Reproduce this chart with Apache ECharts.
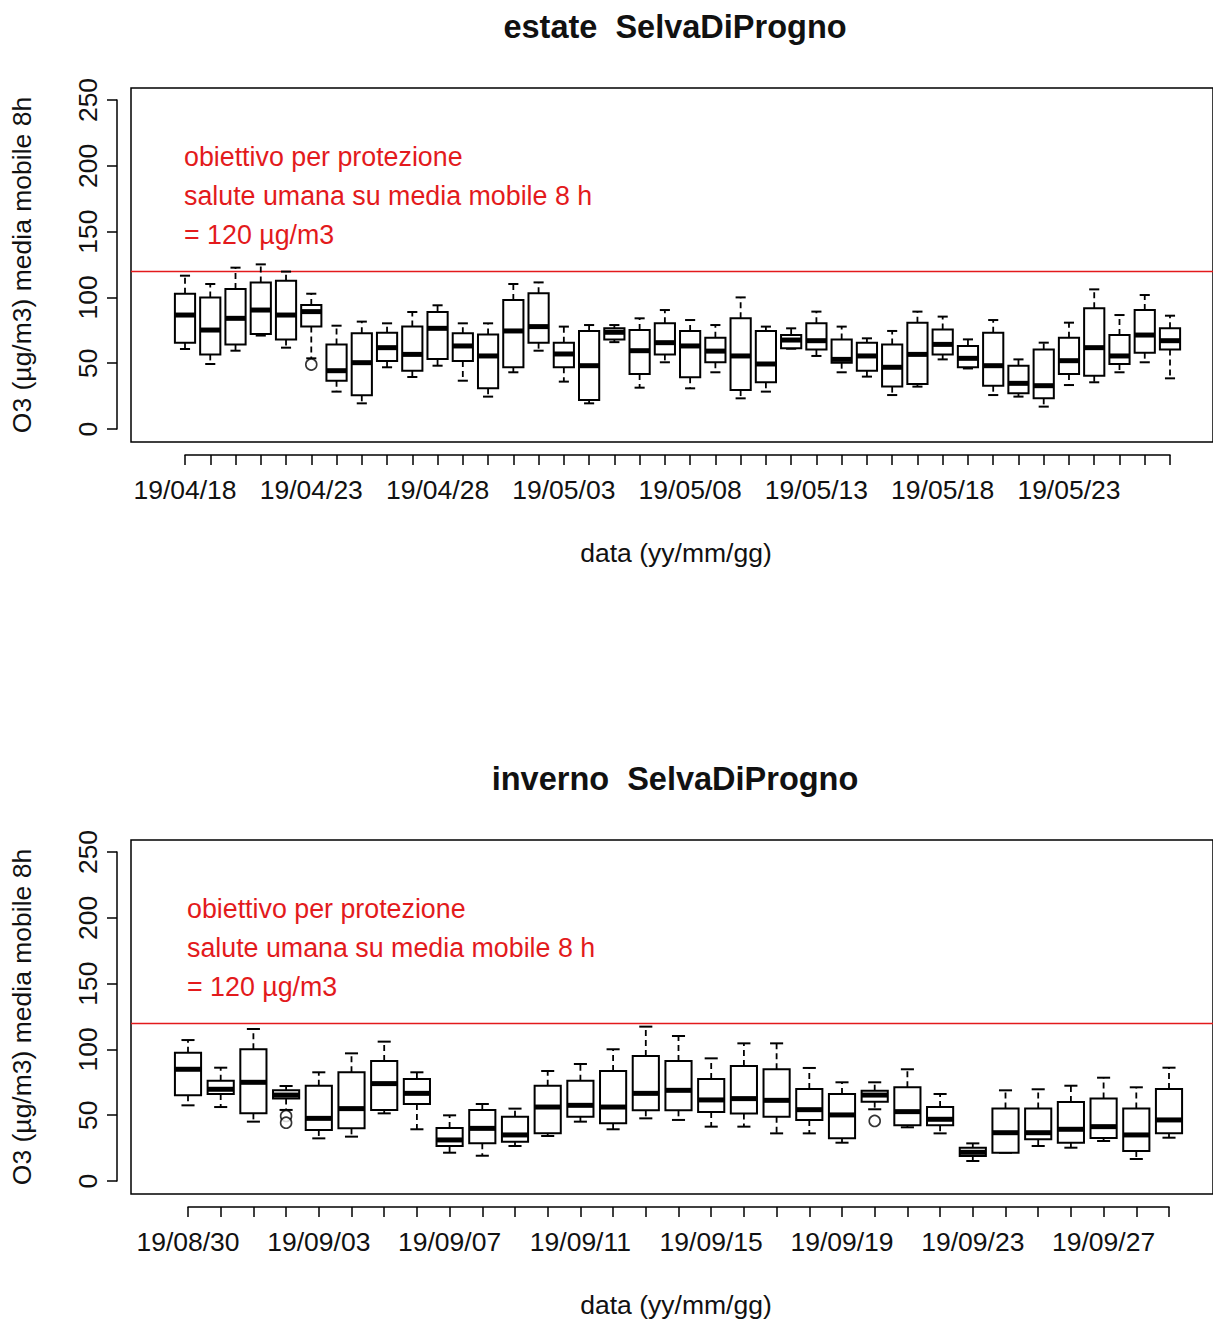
<!DOCTYPE html>
<html><head><meta charset="utf-8">
<script src="https://cdn.jsdelivr.net/npm/echarts@6/dist/echarts.min.js"></script>
<style>html,body{margin:0;padding:0;background:#fff}#c{width:1213px;height:1321px}</style>
</head><body><div id="c"></div>
<script>
const FONT = '"Liberation Sans", Arial, sans-serif';

// ---------- estate ----------
const estateDates = ['19/04/18','19/04/19','19/04/20','19/04/21','19/04/22','19/04/23','19/04/24','19/04/25','19/04/26','19/04/27',
  '19/04/28','19/04/29','19/04/30','19/05/01','19/05/02','19/05/03','19/05/04','19/05/05','19/05/06','19/05/07',
  '19/05/08','19/05/09','19/05/10','19/05/11','19/05/12','19/05/13','19/05/14','19/05/15','19/05/16','19/05/17',
  '19/05/18','19/05/19','19/05/20','19/05/21','19/05/22','19/05/23','19/05/24','19/05/25','19/05/26','19/05/27'];
const estateTickLabels = ['19/04/18','19/04/23','19/04/28','19/05/03','19/05/08','19/05/13','19/05/18','19/05/23'];
const estateMin = [60.8,49.4,59.5,71.0,61.8,53.7,28.4,19.5,46.9,39.5,48.1,36.7,24.6,43.1,59.5,36.0,19.5,66.0,31.4,50.7,
  30.9,43.1,23.3,28.4,61.0,55.5,43.1,39.8,25.8,32.2,52.9,46.0,25.8,24.6,17.0,33.4,35.5,43.1,50.7,38.5];
const estateQ1 = [65.6,56.7,64.3,72.2,68.1,77.8,36.7,25.6,51.7,44.3,53.2,51.7,30.9,46.9,65.6,46.9,22.0,68.1,41.8,56.7,
  39.3,50.7,29.6,35.5,61.3,60.5,50.4,44.3,32.2,34.2,56.7,46.9,32.9,27.1,23.3,41.8,40.5,49.4,58.0,60.5];
const estateMedian = [86.6,75.2,84.1,90.4,86.6,89.2,44.3,50.4,61.8,56.7,76.5,63.1,55.5,74.5,77.8,57.0,48.1,73.5,59.5,65.6,
  63.1,59.2,55.5,49.4,67.6,67.1,52.9,55.5,46.9,56.7,64.3,53.7,48.1,34.7,32.9,51.9,61.8,55.5,71.4,67.1];
const estateQ3 = [102.8,100.0,106.4,111.4,112.7,94.2,64.3,72.7,73.2,77.8,88.9,72.7,71.9,98.0,103.1,65.6,74.5,76.5,75.2,80.3,
  74.5,69.4,84.1,74.5,71.4,80.3,68.1,65.6,64.3,80.8,75.7,63.1,73.2,48.1,60.5,69.4,91.7,71.4,90.4,76.5];
const estateMax = [116.5,110.2,122.6,125.1,119.6,102.8,78.5,81.6,80.3,88.9,94.0,80.3,80.3,110.2,111.4,77.8,79.0,79.0,84.1,90.4,
  82.8,79.0,100.0,77.8,76.5,89.2,77.8,68.9,74.5,89.2,85.4,68.1,82.8,52.9,65.6,80.8,106.1,86.6,101.8,86.1];
const estateOutlierIdx = [5];
const estateOutlierVal = [49.0];

// ---------- inverno ----------
const invernoDates = ['19/08/30','19/08/31','19/09/01','19/09/02','19/09/03','19/09/04','19/09/05','19/09/06','19/09/07','19/09/08',
  '19/09/09','19/09/10','19/09/11','19/09/12','19/09/13','19/09/14','19/09/15','19/09/16','19/09/17','19/09/18',
  '19/09/19','19/09/20','19/09/21','19/09/22','19/09/23','19/09/24','19/09/25','19/09/26','19/09/27','19/09/28','19/09/29'];
const invernoTickLabels = ['19/08/30','19/09/03','19/09/07','19/09/11','19/09/15','19/09/19','19/09/23','19/09/27'];
const invernoMin = [57.5,56.2,45.1,54.0,32.4,33.7,51.4,39.3,21.5,19.2,26.6,34.2,45.1,39.3,47.6,46.4,41.3,41.3,36.2,36.2,
  29.1,54.5,40.8,36.2,15.2,21.5,26.6,25.3,30.4,16.7,32.9];
const invernoQ1 = [65.1,66.1,51.4,62.6,38.8,40.0,54.0,58.5,26.6,28.6,29.9,36.2,48.9,43.8,53.7,53.7,52.4,51.2,48.9,46.4,
  32.4,60.3,42.3,42.3,19.0,21.5,31.7,29.1,32.7,22.8,36.2];
const invernoMedian = [84.9,69.7,75.0,65.3,47.6,55.0,74.0,66.6,31.2,40.0,35.0,56.2,57.5,56.2,66.6,68.9,61.6,62.6,61.3,54.2,
  50.2,65.3,52.7,46.9,21.8,36.7,36.7,39.3,41.3,35.0,46.4];
const invernoQ3 = [97.5,76.2,100.1,68.9,72.4,82.6,91.2,77.5,40.3,54.0,48.9,72.4,76.2,83.6,95.0,91.2,77.5,87.4,84.9,69.9,
  66.1,68.6,71.2,56.2,25.3,55.0,55.0,60.0,62.6,55.0,69.9];
const invernoMax = [107.1,86.1,115.5,72.2,82.6,97.0,105.9,82.6,49.9,58.5,55.0,83.6,88.9,100.1,117.3,110.2,93.2,104.6,104.6,85.9,
  75.0,75.0,84.9,66.1,28.6,68.9,69.7,72.4,78.5,71.2,86.1];
const invernoOutlierIdx = [3,3,21];
const invernoOutlierVal = [49.4,44.3,45.6];

const yTicks = { min: 0, max: 250, interval: 50 };
const limitValue = 120;

const chart = echarts.init(document.getElementById('c'), null, { renderer: 'svg' });

function boxRender(params, api) {
  const i = api.value(0);
  const lo = api.coord([i, api.value(1)]);
  const q1 = api.coord([i, api.value(2)]);
  const md = api.coord([i, api.value(3)]);
  const q3 = api.coord([i, api.value(4)]);
  const hi = api.coord([i, api.value(5)]);
  const w = api.size([1, 0])[0] * 0.8;
  const x = lo[0];
  const stroke = '#000';
  return {
    type: 'group',
    children: [
      { type: 'line', shape: { x1: x, y1: q3[1], x2: x, y2: hi[1] }, style: { stroke, lineWidth: 1.8, lineDash: [6, 4] } },
      { type: 'line', shape: { x1: x, y1: q1[1], x2: x, y2: lo[1] }, style: { stroke, lineWidth: 1.8, lineDash: [6, 4] } },
      { type: 'line', shape: { x1: x - w / 4, y1: hi[1], x2: x + w / 4, y2: hi[1] }, style: { stroke, lineWidth: 2 } },
      { type: 'line', shape: { x1: x - w / 4, y1: lo[1], x2: x + w / 4, y2: lo[1] }, style: { stroke, lineWidth: 2 } },
      { type: 'rect', shape: { x: x - w / 2, y: q3[1], width: w, height: q1[1] - q3[1] }, style: { fill: '#fff', stroke, lineWidth: 2 } },
      { type: 'line', shape: { x1: x - w / 2, y1: md[1], x2: x + w / 2, y2: md[1] }, style: { stroke, lineWidth: 5 } }
    ]
  };
}

const grids = [], xAxes = [], yAxes = [], series = [], graphics = [];

function panel(name, dates, ticks, mn, q1, med, q3, mx, oIdx, oVal, oy, dataLeft, dataRight) {
  const gA = grids.length;
  grids.push({ left: 131, right: -8, top: 88 + oy, height: 354, show: true, borderColor: '#000', borderWidth: 1.5, backgroundColor: 'transparent' });
  xAxes.push({ gridIndex: gA, type: 'value', min: 0, max: 1, show: false });
  yAxes.push({ gridIndex: gA, type: 'value', min: -10, max: 260, show: false });
  const gB = grids.length;
  grids.push({ left: dataLeft, right: dataRight, top: 100 + oy, height: 329 });
  xAxes.push({
    gridIndex: gB, type: 'value', min: 0, max: dates.length - 1, interval: 1, offset: 26,
    axisLine: { show: true, onZero: false, lineStyle: { color: '#000', width: 1.5 } },
    axisTick: { show: true, length: 10, lineStyle: { color: '#000', width: 1.5 } },
    splitLine: { show: false },
    axisLabel: {
      margin: 21, color: '#111', fontSize: 26.5, fontFamily: FONT, showMinLabel: true, showMaxLabel: true,
      formatter: v => (ticks.indexOf(dates[v]) >= 0 ? dates[v] : '')
    }
  });
  yAxes.push({
    gridIndex: gB, type: 'value', min: yTicks.min, max: yTicks.max, interval: yTicks.interval, offset: dataLeft - 117,
    axisLine: { show: true, onZero: false, lineStyle: { color: '#000', width: 1.5 } },
    axisTick: { show: true, length: 10, lineStyle: { color: '#000', width: 1.5 } },
    splitLine: { show: false },
    axisLabel: { rotate: 90, margin: 16, color: '#111', fontSize: 26.5, fontFamily: FONT }
  });
  series.push({
    type: 'line', xAxisIndex: gA, yAxisIndex: gA, data: [[0, limitValue], [1, limitValue]],
    symbol: 'none', silent: true, lineStyle: { color: '#e31a1c', width: 1.5 }, z: 1
  });
  series.push({
    type: 'custom', xAxisIndex: gB, yAxisIndex: gB, renderItem: boxRender, clip: false,
    encode: { x: 0, y: [1, 2, 3, 4, 5] }, z: 3,
    data: dates.map((d, i) => [i, mn[i], q1[i], med[i], q3[i], mx[i]])
  });
  series.push({
    type: 'scatter', xAxisIndex: gB, yAxisIndex: gB, symbol: 'circle', symbolSize: 11, z: 4,
    itemStyle: { color: '#fff', borderColor: '#000', borderWidth: 1.6 },
    data: oIdx.map((i, k) => [i, oVal[k]])
  });
  graphics.push({ type: 'text', x: 675, y: 27 + oy, style: { text: name + '  SelvaDiProgno', font: 'bold 32.5px ' + FONT, fill: '#111', textAlign: 'center', textVerticalAlign: 'middle' } });
  graphics.push({ type: 'text', x: 676, y: 553 + oy, style: { text: 'data (yy/mm/gg)', font: '26.5px ' + FONT, fill: '#111', textAlign: 'center', textVerticalAlign: 'middle' } });
  graphics.push({ type: 'text', x: 22, y: 265 + oy, rotation: Math.PI / 2, style: { text: 'O3 (µg/m3) media mobile 8h', font: '26.5px ' + FONT, fill: '#111', textAlign: 'center', textVerticalAlign: 'middle' } });
  const redLines = ['obiettivo per protezione', 'salute umana su media mobile 8 h', '= 120 µg/m3'];
  redLines.forEach((t, k) => graphics.push({ type: 'text', x: dataLeft - 1, y: 157 + 39 * k + oy, style: { text: t, font: '26.8px ' + FONT, fill: '#e31a1c', textAlign: 'left', textVerticalAlign: 'middle' } }));
}

panel('estate', estateDates, estateTickLabels, estateMin, estateQ1, estateMedian, estateQ3, estateMax, estateOutlierIdx, estateOutlierVal, 0, 185, 43);
panel('inverno', invernoDates, invernoTickLabels, invernoMin, invernoQ1, invernoMedian, invernoQ3, invernoMax, invernoOutlierIdx, invernoOutlierVal, 752, 188, 44);

chart.setOption({
  animation: false,
  backgroundColor: '#fff',
  grid: grids, xAxis: xAxes, yAxis: yAxes, series: series, graphic: graphics
});
</script></body></html>
